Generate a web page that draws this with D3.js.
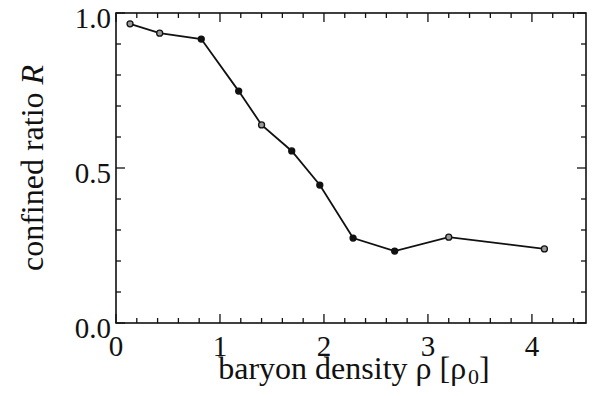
<!DOCTYPE html>
<html>
<head>
<meta charset="utf-8">
<script src="https://cdn.jsdelivr.net/npm/d3@7"></script>
<style>
  body { margin: 0; background: #fff; }
  text { font-family: "Liberation Serif", "Times New Roman", serif; fill: #111; }
</style>
</head>
<body>
<svg id="chart" width="603" height="396"></svg>
<script>
// baryon density (in rho_0) and confined ratio R
var density = [0.135, 0.42, 0.82, 1.18, 1.40, 1.69, 1.96, 2.28, 2.68, 3.20, 4.12];
var ratio   = [0.965, 0.935, 0.916, 0.748, 0.639, 0.555, 0.445, 0.274, 0.232, 0.277, 0.239];
var hollow  = [true, true, false, false, true, false, false, false, false, true, true];
var xTicks = [0, 1, 2, 3, 4];
var yTicks = [0.0, 0.5, 1.0];

var svg = d3.select("#chart"),
    pl = 116, pr = 586, pt = 13, pb = 323;

var x = d3.scaleLinear().domain([0, 4.52]).range([pl, pr]);
var y = d3.scaleLinear().domain([0, 1]).range([pb, pt]);

var minorX = d3.range(0, 4.51, 0.2),
    minorY = d3.range(0, 1.01, 0.1);

var g = svg.append("g").attr("stroke", "#111").attr("stroke-width", 1.3);

// ticks: bottom/top on x, left/right on y
function isMajorX(v) { return Math.abs(v - Math.round(v)) < 1e-6; }
function isMajorY(v) { return Math.abs(v * 2 - Math.round(v * 2)) < 1e-6; }

g.selectAll(".tb").data(minorX).enter().append("line")
  .attr("x1", function(d){ return x(d); }).attr("x2", function(d){ return x(d); })
  .attr("y1", pb).attr("y2", function(d){ return pb - (isMajorX(d) ? 9 : 5); });
g.selectAll(".tt").data(minorX).enter().append("line")
  .attr("x1", function(d){ return x(d); }).attr("x2", function(d){ return x(d); })
  .attr("y1", pt).attr("y2", function(d){ return pt + (isMajorX(d) ? 9 : 5); });
g.selectAll(".tl").data(minorY).enter().append("line")
  .attr("y1", function(d){ return y(d); }).attr("y2", function(d){ return y(d); })
  .attr("x1", pl).attr("x2", function(d){ return pl + (isMajorY(d) ? 9 : 5); });
g.selectAll(".tr").data(minorY).enter().append("line")
  .attr("y1", function(d){ return y(d); }).attr("y2", function(d){ return y(d); })
  .attr("x1", pr).attr("x2", function(d){ return pr - (isMajorY(d) ? 9 : 5); });

svg.append("rect")
  .attr("x", pl).attr("y", pt)
  .attr("width", pr - pl).attr("height", pb - pt)
  .attr("fill", "none").attr("stroke", "#111").attr("stroke-width", 1.6);

// tick labels
svg.selectAll(".xl").data(xTicks).enter().append("text")
  .attr("x", function(d){ return x(d); }).attr("y", 356)
  .attr("text-anchor", "middle").attr("font-size", 29)
  .text(function(d){ return d; });
svg.selectAll(".yl").data(yTicks).enter().append("text")
  .attr("x", 111).attr("y", function(d){ return y(d) + 15; })
  .attr("text-anchor", "end").attr("font-size", 29)
  .text(function(d){ return d3.format(".1f")(d); });

// axis titles
var xt = svg.append("text").attr("x", 354).attr("y", 379)
  .attr("text-anchor", "middle").attr("font-size", 32);
xt.append("tspan").text("baryon density \u03c1 [\u03c1");
xt.append("tspan").attr("font-size", 22).attr("dy", 5).attr("dx", 2).text("0");
xt.append("tspan").attr("dy", -5).text("]");

var yt = svg.append("text").attr("transform", "translate(43,168) rotate(-90)")
  .attr("text-anchor", "middle").attr("font-size", 32);
yt.append("tspan").text("confined ratio ");
yt.append("tspan").attr("font-style", "italic").text("R");

// data line and markers
var pts = density.map(function(d, i){ return {x: d, y: ratio[i], open: hollow[i]}; });
var line = d3.line().x(function(d){ return x(d.x); }).y(function(d){ return y(d.y); });

svg.append("path").datum(pts)
  .attr("d", line).attr("fill", "none")
  .attr("stroke", "#111").attr("stroke-width", 1.8);

svg.selectAll(".pt").data(pts).enter().append("circle")
  .attr("cx", function(d){ return x(d.x); })
  .attr("cy", function(d){ return y(d.y); })
  .attr("r", 3)
  .attr("fill", function(d){ return d.open ? "#999" : "#111"; })
  .attr("stroke", "#111").attr("stroke-width", 1.3);
</script>
</body>
</html>
